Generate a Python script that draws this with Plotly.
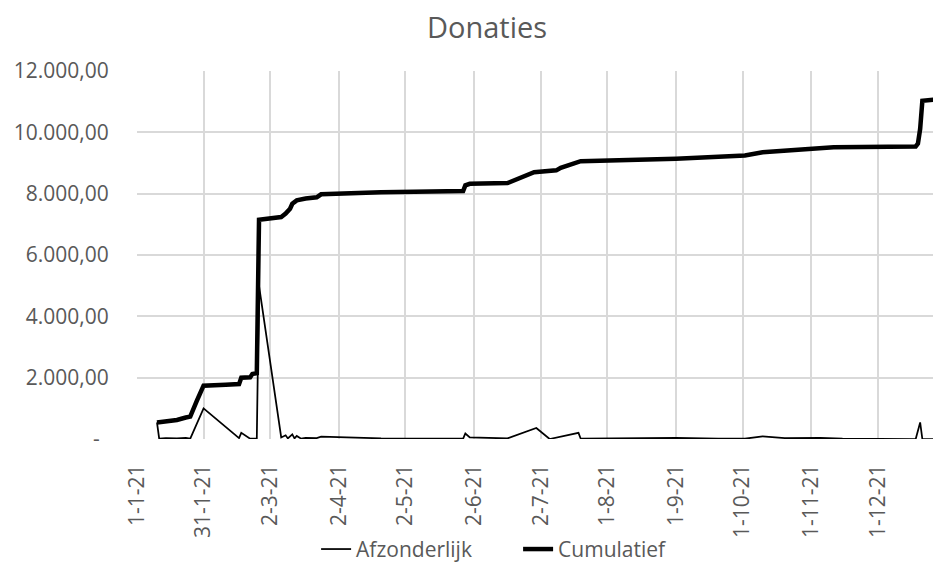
import plotly.graph_objects as go

# ---- data ----
cum_dates = [
    "2021-01-10", "2021-01-14", "2021-01-19", "2021-01-23", "2021-01-25",
    "2021-01-28", "2021-01-31", "2021-02-10", "2021-02-16", "2021-02-17",
    "2021-02-21", "2021-02-22", "2021-02-24", "2021-02-25", "2021-03-07",
    "2021-03-09", "2021-03-11", "2021-03-12", "2021-03-14", "2021-03-18",
    "2021-03-23", "2021-03-25", "2021-04-21", "2021-05-28", "2021-05-29",
    "2021-05-31", "2021-06-17", "2021-06-29", "2021-07-09", "2021-07-11",
    "2021-07-20", "2021-09-01", "2021-09-13", "2021-10-02", "2021-10-10",
    "2021-10-18", "2021-11-02", "2021-11-11", "2021-12-18", "2021-12-19",
    "2021-12-20", "2021-12-21", "2021-12-31",
]
cum_values = [
    540, 580, 620, 700, 730,
    1250, 1740, 1770, 1790, 2000,
    2010, 2120, 2150, 7150, 7240,
    7350, 7510, 7670, 7780, 7840,
    7880, 7980, 8050, 8085, 8270,
    8320, 8345, 8700, 8760, 8845,
    9060, 9140, 9190, 9245, 9350,
    9390, 9465, 9515, 9540, 9630,
    10110, 11030, 11100,
]

afz_dates = [
    "2021-01-10", "2021-01-11", "2021-01-14", "2021-01-19", "2021-01-23",
    "2021-01-25", "2021-01-31", "2021-02-16", "2021-02-17", "2021-02-21",
    "2021-02-24", "2021-02-25", "2021-03-07", "2021-03-09", "2021-03-10",
    "2021-03-12", "2021-03-13", "2021-03-14", "2021-03-16", "2021-03-18",
    "2021-03-23", "2021-03-25", "2021-04-21", "2021-05-28", "2021-05-29",
    "2021-05-31", "2021-06-17", "2021-06-30", "2021-07-06", "2021-07-19",
    "2021-07-20", "2021-08-15", "2021-09-01", "2021-09-20", "2021-10-02",
    "2021-10-10", "2021-10-20", "2021-11-05", "2021-11-15", "2021-12-18",
    "2021-12-20", "2021-12-21", "2021-12-31",
]
afz_values = [
    540, 10, 30, 20, 40,
    10, 1000, 30, 200, 10,
    20, 5000, 50, 120, 20,
    150, 20, 100, 10, 40,
    30, 80, 20, 10, 180,
    50, 20, 360, 0, 200,
    10, 30, 40, 10, 10,
    85, 30, 40, 10, 0,
    540, 0, 0,
]

x_tick_dates = [
    "2021-01-01", "2021-01-31", "2021-03-02", "2021-04-02", "2021-05-02",
    "2021-06-02", "2021-07-02", "2021-08-01", "2021-09-01", "2021-10-01",
    "2021-11-01", "2021-12-01",
]
x_tick_labels = [
    "1-1-21", "31-1-21", "2-3-21", "2-4-21", "2-5-21", "2-6-21",
    "2-7-21", "1-8-21", "1-9-21", "1-10-21", "1-11-21", "1-12-21",
]
y_tick_values = [0, 2000, 4000, 6000, 8000, 10000, 12000]
y_tick_labels = ["-\u00a0\u2009", "2.000,00", "4.000,00", "6.000,00",
                 "8.000,00", "10.000,00", "12.000,00"]

FONT = "Open Sans"
GREY = "#595959"
GRID = "#d9d9d9"

fig = go.Figure()
fig.add_trace(go.Scatter(
    x=afz_dates, y=afz_values, mode="lines", name="Afzonderlijk",
    line=dict(color="black", width=1.75),
))
fig.add_trace(go.Scatter(
    x=cum_dates, y=cum_values, mode="lines", name="Cumulatief",
    line=dict(color="black", width=4.5),
))

# the page body adds an 8px offset, so the figure is sized to fill the rest
fig.update_layout(
    width=933, height=562,
    margin=dict(l=129, r=0, t=63, b=131, autoexpand=False),
    paper_bgcolor="white", plot_bgcolor="white",
    font=dict(family=FONT, color=GREY, size=21),
    title=dict(text="Donaties", x=0.5134, xref="container", xanchor="center",
               y=0.964, yref="container", yanchor="middle",
               font=dict(family=FONT, size=29, color=GREY)),
    showlegend=True,
    legend=dict(orientation="h", x=0.474, xanchor="center", y=-0.30,
                yanchor="middle", entrywidth=157, entrywidthmode="pixels",
                font=dict(family=FONT, size=21, color=GREY),
                bgcolor="rgba(0,0,0,0)"),
    hovermode=False,
)
fig.update_xaxes(
    type="date", automargin=False,
    range=["2021-01-01", "2021-12-29 09:36"],
    tickmode="array", tickvals=x_tick_dates, ticktext=x_tick_labels,
    tickangle=-90, ticks="outside", ticklen=16, tickcolor="rgba(0,0,0,0)",
    showgrid=True, gridcolor=GRID, gridwidth=1.5,
    showline=False, zeroline=False,
    tickfont=dict(family=FONT, size=21, color=GREY),
)
fig.update_yaxes(
    automargin=False,
    range=[0, 12000],
    tickmode="array", tickvals=y_tick_values, ticktext=y_tick_labels,
    ticks="outside", ticklen=23, tickcolor="rgba(0,0,0,0)",
    showgrid=True, gridcolor=GRID, gridwidth=1.5,
    showline=False, zeroline=False,
    tickfont=dict(family=FONT, size=21, color=GREY),
)

fig.write_html("out.html", config={"displayModeBar": False})
